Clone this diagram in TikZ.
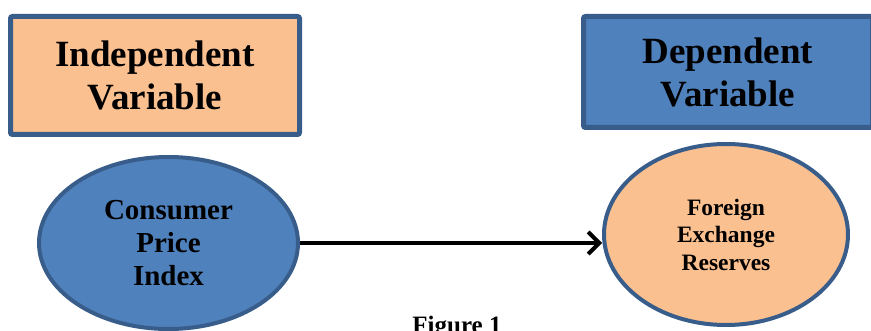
\documentclass[tikz,border=0pt]{standalone}
\usepackage{fontspec}
\setmainfont{Liberation Serif}
\usetikzlibrary{shapes,arrows.meta}
\definecolor{boxedge}{HTML}{385D8A}
\definecolor{peach}{HTML}{FAC090}
\definecolor{steel}{HTML}{4F81BD}
\tikzstyle{varbox} = [rectangle, draw=boxedge, line width=5pt,
    rounded corners=2pt, minimum width=289pt, align=center,
    font=\fontsize{37}{43}\selectfont\bfseries]
\tikzstyle{varnode} = [ellipse, draw=boxedge, line width=4pt, align=center]
\tikzstyle{line} = [draw, line width=4pt, -{Straight Barb[length=11pt,width=22pt]}]

\begin{document}
\begin{tikzpicture}[x=1pt, y=1pt]
    \useasboundingbox (0,0) rectangle (871,330);
    % Place nodes
    \node [varbox, fill=peach, minimum height=118pt] (indep) at (155,254.5) {Independent\\Variable};
    \node [varbox, fill=steel, minimum height=111pt] (dep) at (728,258) {Dependent\\Variable};
    \node [varnode, fill=steel, minimum width=259pt, minimum height=172pt,
        font=\fontsize{29}{33}\selectfont\bfseries] (cpi) at (168.5,87) {Consumer\\Price\\Index};
    \node [varnode, fill=peach, minimum width=244pt, minimum height=181pt,
        font=\fontsize{23.5}{27.5}\selectfont\bfseries] (fer) at (726,95.5) {Foreign\\Exchange\\Reserves};
    \node [anchor=base, font=\fontsize{25}{30}\selectfont\bfseries] (cap) at (457,-3.5) {Figure 1};
    % Draw edges
    \path [line] (cpi.east) -- (cpi.east -| fer.west);
\end{tikzpicture}
\end{document}
